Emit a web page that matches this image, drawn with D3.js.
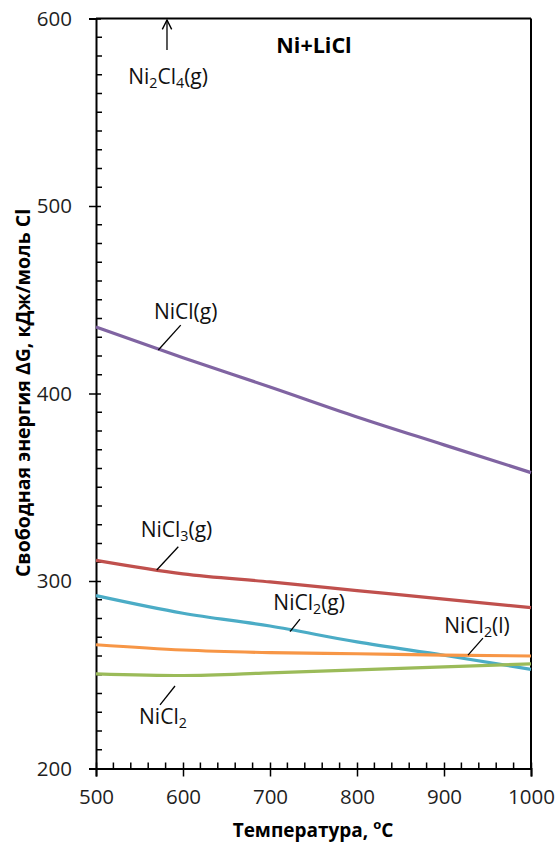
<!DOCTYPE html>
<html>
<head>
<meta charset="utf-8">
<script src="https://cdn.jsdelivr.net/npm/d3@7"></script>
<style>
  html, body { margin: 0; padding: 0; background: #fff; }
  svg { display: block; font-family: "Open Sans", "Noto Sans", sans-serif; }
</style>
</head>
<body>
<svg id="chart" width="557" height="850"></svg>
<script>
// Temperature grid, °C
const temperatures = [500, 600, 700, 800, 900, 1000];

// Free energy ΔG, kJ/mol Cl, for each chloride species
const nicl_g   = [435.5, 419.1, 403.5, 387.5, 372.6, 357.8];
const nicl3_g  = [311.0, 303.8, 299.5, 294.9, 290.3, 285.8];
const nicl2_g  = [292.2, 282.8, 276.0, 267.5, 260.4, 252.9];
const nicl2_l  = [266.0, 263.2, 261.8, 261.2, 260.5, 260.0];
const nicl2_s  = [250.5, 249.6, 251.0, 252.6, 254.2, 255.8];

// Axis ticks
const xTicks = [500, 600, 700, 800, 900, 1000];
const yTicks = [200, 300, 400, 500, 600];

const seriesList = [
  { key: "NiCl(g)",   values: nicl_g,  color: "#8064A2" },
  { key: "NiCl3(g)",  values: nicl3_g, color: "#C0504D" },
  { key: "NiCl2(g)",  values: nicl2_g, color: "#4BACC6" },
  { key: "NiCl2(l)",  values: nicl2_l, color: "#F79646" },
  { key: "NiCl2",     values: nicl2_s, color: "#9BBB59" }
];

// Callout labels: text parts [text, isSubscript], label centre and leader line in data units
const callouts = [
  { parts: [["NiCl", 0], ["(g)", 0]], at: [603, 444], leader: [[597.4, 436.5], [571.6, 423.2]] },
  { parts: [["NiCl", 0], ["3", 1], ["(g)", 0]], at: [592.5, 327.7], leader: [[594.6, 318.3], [569.8, 305.9]] },
  { parts: [["NiCl", 0], ["2", 1], ["(g)", 0]], at: [745, 288.8], leader: [[734.5, 279.7], [723, 273]] },
  { parts: [["NiCl", 0], ["2", 1], ["(l)", 0]], at: [938, 276.5], leader: [[944.8, 269.5], [927.6, 260.5]] },
  { parts: [["NiCl", 0], ["2", 1]], at: [577, 228], leader: [[590.8, 244], [573.6, 233.9]] }
];
const offChart = { parts: [["Ni", 0], ["2", 1], ["Cl", 0], ["4", 1], ["(g)", 0]], at: [582.8, 569.3], arrow: [[581.6, 583.2], [581.6, 599.2]] };

const svg = d3.select("#chart");
const plot = { left: 96, right: 531, top: 18.5, bottom: 768.5 };

const x = d3.scaleLinear().domain([500, 1000]).range([plot.left, plot.right]);
const y = d3.scaleLinear().domain([200, 600]).range([plot.bottom, plot.top]);

// Frame on top and right
svg.append("line").attr("x1", plot.left).attr("x2", plot.right).attr("y1", plot.top).attr("y2", plot.top)
  .attr("stroke", "#000").attr("stroke-width", 2);
svg.append("line").attr("x1", plot.right).attr("x2", plot.right).attr("y1", plot.top).attr("y2", plot.bottom)
  .attr("stroke", "#000").attr("stroke-width", 2);

// Minor ticks (inward)
const yMinor = d3.range(210, 600, 10).filter(v => v % 100 !== 0);
const xMinor = d3.range(520, 1000, 20).filter(v => v % 100 !== 0);
svg.append("g").selectAll("line").data(yMinor).join("line")
  .attr("x1", plot.left).attr("x2", plot.left + 6)
  .attr("y1", d => y(d)).attr("y2", d => y(d))
  .attr("stroke", "#000").attr("stroke-width", 1.5);
svg.append("g").selectAll("line").data(xMinor).join("line")
  .attr("x1", d => x(d)).attr("x2", d => x(d))
  .attr("y1", plot.bottom).attr("y2", plot.bottom - 6)
  .attr("stroke", "#000").attr("stroke-width", 1.5);

// Y axis
const yAxis = svg.append("g").attr("transform", `translate(${plot.left},0)`)
  .call(d3.axisLeft(y).tickValues(yTicks).tickSize(7).tickPadding(17).tickFormat(d3.format("d")));
yAxis.select(".domain").attr("stroke", "#000").attr("stroke-width", 2);
yAxis.selectAll(".tick line").attr("stroke", "#000").attr("stroke-width", 1.5).attr("x2", -7).attr("x1", 5);
yAxis.selectAll(".tick text").attr("font-size", 20.5).attr("fill", "#1f1f1f").attr("font-family", "Open Sans");

// X axis
const xAxis = svg.append("g").attr("transform", `translate(0,${plot.bottom})`)
  .call(d3.axisBottom(x).tickValues(xTicks).tickSize(8).tickPadding(13).tickFormat(d3.format("d")));
xAxis.select(".domain").attr("stroke", "#000").attr("stroke-width", 2);
xAxis.selectAll(".tick line").attr("stroke", "#000").attr("stroke-width", 1.5).attr("y1", -6).attr("y2", 8);
xAxis.selectAll(".tick text").attr("font-size", 20.5).attr("fill", "#1f1f1f").attr("font-family", "Open Sans");

// Series lines
const line = d3.line().x((d, i) => x(temperatures[i])).y(d => y(d)).curve(d3.curveMonotoneX);
svg.append("g").selectAll("path").data(seriesList).join("path")
  .attr("d", d => line(d.values))
  .attr("fill", "none").attr("stroke", d => d.color).attr("stroke-width", 3.2);

// Chemical formula text with subscripts
function formula(sel, parts, size) {
  const t = sel.append("text").attr("text-anchor", "middle").attr("dominant-baseline", "central")
    .attr("font-size", size).attr("fill", "#111");
  const shift = size * 0.3;
  let lowered = false;
  parts.forEach(([s, sub]) => {
    const ts = t.append("tspan").text(s);
    if (sub && !lowered) { ts.attr("dy", shift); lowered = true; }
    else if (!sub && lowered) { ts.attr("dy", -shift); lowered = false; }
    if (sub) ts.attr("font-size", size * 0.68);
  });
  return t;
}

const labels = svg.append("g");
callouts.forEach(c => {
  formula(labels, c.parts, 21).attr("x", x(c.at[0])).attr("y", y(c.at[1]));
  labels.append("line")
    .attr("x1", x(c.leader[0][0])).attr("y1", y(c.leader[0][1]))
    .attr("x2", x(c.leader[1][0])).attr("y2", y(c.leader[1][1]))
    .attr("stroke", "#000").attr("stroke-width", 1.3);
});

// Off-scale species marked with an upward arrow
formula(labels, offChart.parts, 21).attr("x", x(offChart.at[0])).attr("y", y(offChart.at[1]));
svg.append("defs").append("marker").attr("id", "arrowhead")
  .attr("viewBox", "0 0 10 10").attr("refX", 9).attr("refY", 5)
  .attr("markerWidth", 9).attr("markerHeight", 9).attr("orient", "auto")
  .append("path").attr("d", "M1,1 L9,5 L1,9").attr("fill", "none").attr("stroke", "#000").attr("stroke-width", 1.2);
labels.append("line")
  .attr("x1", x(offChart.arrow[0][0])).attr("y1", y(offChart.arrow[0][1]))
  .attr("x2", x(offChart.arrow[1][0])).attr("y2", y(offChart.arrow[1][1]))
  .attr("stroke", "#000").attr("stroke-width", 1.3).attr("marker-end", "url(#arrowhead)");

// Chart title
svg.append("text").attr("x", 314).attr("y", 44).attr("text-anchor", "middle").attr("dominant-baseline", "central")
  .attr("font-size", 21.5).attr("font-weight", "bold").attr("fill", "#000").text("Ni+LiCl");

// Axis titles
const xTitle = svg.append("text").attr("x", 313).attr("y", 830).attr("text-anchor", "middle")
  .attr("dominant-baseline", "central").attr("font-size", 19).attr("font-weight", "bold").attr("fill", "#000");
xTitle.append("tspan").text("Температура, ");
xTitle.append("tspan").attr("font-size", 13).attr("dy", -6).text("o");
xTitle.append("tspan").attr("dy", 6).text("C");

svg.append("text").attr("transform", "translate(22,393) rotate(-90)")
  .attr("text-anchor", "middle").attr("dominant-baseline", "central")
  .attr("font-size", 19.5).attr("font-weight", "bold").attr("fill", "#000")
  .text("Свободная энергия ΔG, кДж/моль Cl");
</script>
</body>
</html>
